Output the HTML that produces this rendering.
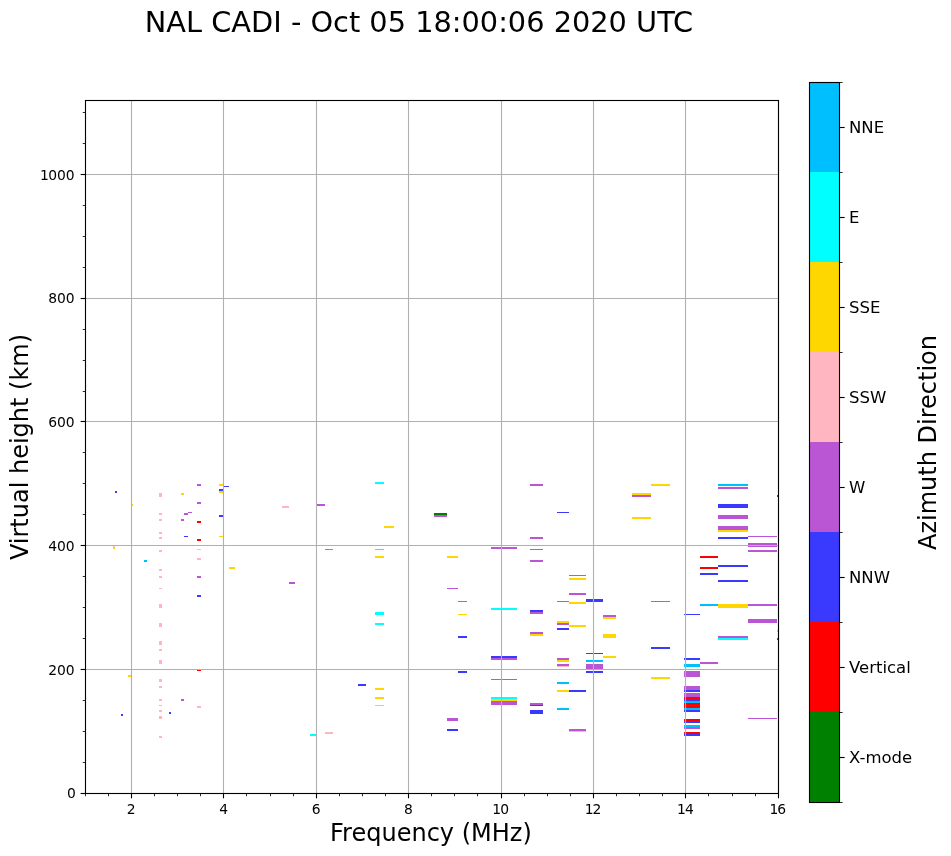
<!DOCTYPE html>
<html lang="en">
<head>
<meta charset="utf-8">
<title>NAL CADI - Oct 05 18:00:06 2020 UTC</title>
<style>
html,body{margin:0;padding:0;background:#fff;}
body{width:951px;height:856px;overflow:hidden;}
svg{display:block;}
text{font-family:"DejaVu Sans","Liberation Sans",sans-serif;fill:#000;}
.tk{font-size:13.89px;}
.cb{font-size:16.5px;}
.lb{font-size:24px;}
.tt{font-size:28.8px;}
</style>
</head>
<body>
<svg width="951" height="856" viewBox="0 0 951 856">
<rect x="0" y="0" width="951" height="856" fill="#ffffff"/>
<g id="marks" shape-rendering="crispEdges">
<rect x="113" y="547" width="2" height="2" fill="#ffd700"/>
<rect x="113" y="546" width="2" height="1" fill="#ffb6c1"/>
<rect x="115" y="491" width="2" height="2" fill="#3a3aff"/>
<rect x="121" y="714" width="2" height="2" fill="#3a3aff"/>
<rect x="128" y="675" width="3" height="2" fill="#ffd700"/>
<rect x="132" y="504" width="1" height="2" fill="#ffd700"/>
<rect x="144" y="560" width="3" height="2" fill="#00bfff"/>
<rect x="159" y="493" width="3" height="4" fill="#ffb6c1"/>
<rect x="159" y="513" width="3" height="2" fill="#ffb6c1"/>
<rect x="159" y="519" width="3" height="2" fill="#ffb6c1"/>
<rect x="159" y="532" width="3" height="2" fill="#ffb6c1"/>
<rect x="159" y="537" width="3" height="2" fill="#ffb6c1"/>
<rect x="159" y="550" width="3" height="2" fill="#ffb6c1"/>
<rect x="159" y="569" width="3" height="2" fill="#ffb6c1"/>
<rect x="159" y="576" width="3" height="2" fill="#ffb6c1"/>
<rect x="159" y="588" width="3" height="1" fill="#ffb6c1"/>
<rect x="159" y="604" width="3" height="4" fill="#ffb6c1"/>
<rect x="159" y="623" width="3" height="4" fill="#ffb6c1"/>
<rect x="159" y="641" width="3" height="4" fill="#ffb6c1"/>
<rect x="159" y="649" width="3" height="2" fill="#ffb6c1"/>
<rect x="159" y="660" width="3" height="4" fill="#ffb6c1"/>
<rect x="159" y="679" width="3" height="3" fill="#ffb6c1"/>
<rect x="159" y="686" width="3" height="2" fill="#ffb6c1"/>
<rect x="159" y="699" width="3" height="2" fill="#ffb6c1"/>
<rect x="159" y="705" width="3" height="1" fill="#ffb6c1"/>
<rect x="159" y="710" width="3" height="2" fill="#ffb6c1"/>
<rect x="159" y="716" width="3" height="3" fill="#ffb6c1"/>
<rect x="159" y="736" width="3" height="2" fill="#ffb6c1"/>
<rect x="169" y="712" width="2" height="2" fill="#3a3aff"/>
<rect x="181" y="493" width="3" height="2" fill="#ffd700"/>
<rect x="181" y="519" width="3" height="2" fill="#ba55d3"/>
<rect x="181" y="699" width="3" height="2" fill="#ba55d3"/>
<rect x="184" y="513" width="4" height="2" fill="#ba55d3"/>
<rect x="184" y="536" width="4" height="1" fill="#3a3aff"/>
<rect x="188" y="512" width="4" height="1" fill="#ba55d3"/>
<rect x="197" y="484" width="4" height="2" fill="#ba55d3"/>
<rect x="197" y="502" width="4" height="2" fill="#ba55d3"/>
<rect x="197" y="521" width="4" height="2" fill="#ff0000"/>
<rect x="197" y="539" width="4" height="2" fill="#ff0000"/>
<rect x="197" y="549" width="4" height="1" fill="#ffb6c1"/>
<rect x="197" y="558" width="4" height="2" fill="#ffb6c1"/>
<rect x="197" y="576" width="4" height="2" fill="#ba55d3"/>
<rect x="197" y="595" width="4" height="2" fill="#3a3aff"/>
<rect x="197" y="670" width="4" height="1" fill="#ff0000"/>
<rect x="197" y="706" width="4" height="2" fill="#ffb6c1"/>
<rect x="219" y="484" width="4" height="2" fill="#ffd700"/>
<rect x="219" y="489" width="4" height="2" fill="#3a3aff"/>
<rect x="219" y="491" width="4" height="2" fill="#ffd700"/>
<rect x="219" y="515" width="4" height="2" fill="#3a3aff"/>
<rect x="219" y="536" width="4" height="1" fill="#ffd700"/>
<rect x="224" y="486" width="5" height="1" fill="#3a3aff"/>
<rect x="229" y="567" width="6" height="2" fill="#ffd700"/>
<rect x="282" y="506" width="7" height="2" fill="#ffb6c1"/>
<rect x="289" y="582" width="6" height="2" fill="#ba55d3"/>
<rect x="310" y="734" width="6" height="2" fill="#00ffff"/>
<rect x="317" y="504" width="8" height="2" fill="#ba55d3"/>
<rect x="325" y="549" width="8" height="1" fill="#00bfff"/>
<rect x="325" y="732" width="8" height="2" fill="#ffb6c1"/>
<rect x="358" y="684" width="8" height="2" fill="#3a3aff"/>
<rect x="375" y="482" width="9" height="2" fill="#00ffff"/>
<rect x="375" y="549" width="9" height="1" fill="#00ffff"/>
<rect x="375" y="556" width="9" height="2" fill="#ffd700"/>
<rect x="375" y="612" width="9" height="3" fill="#00ffff"/>
<rect x="375" y="623" width="9" height="2" fill="#00ffff"/>
<rect x="375" y="688" width="9" height="2" fill="#ffd700"/>
<rect x="375" y="697" width="9" height="2" fill="#ffd700"/>
<rect x="375" y="705" width="9" height="1" fill="#ffd700"/>
<rect x="384" y="526" width="10" height="2" fill="#ffd700"/>
<rect x="434" y="513" width="13" height="2" fill="#008000"/>
<rect x="434" y="515" width="13" height="2" fill="#ba55d3"/>
<rect x="447" y="556" width="11" height="2" fill="#ffd700"/>
<rect x="447" y="588" width="11" height="1" fill="#ba55d3"/>
<rect x="447" y="718" width="11" height="3" fill="#ba55d3"/>
<rect x="447" y="729" width="11" height="2" fill="#3a3aff"/>
<rect x="458" y="601" width="9" height="1" fill="#ba55d3"/>
<rect x="458" y="614" width="9" height="1" fill="#ffd700"/>
<rect x="458" y="636" width="9" height="2" fill="#3a3aff"/>
<rect x="458" y="671" width="9" height="2" fill="#3a3aff"/>
<rect x="491" y="547" width="26" height="2" fill="#ba55d3"/>
<rect x="491" y="608" width="26" height="2" fill="#00ffff"/>
<rect x="491" y="656" width="26" height="2" fill="#3a3aff"/>
<rect x="491" y="658" width="26" height="2" fill="#ba55d3"/>
<rect x="491" y="679" width="26" height="1" fill="#ba55d3"/>
<rect x="491" y="697" width="26" height="2" fill="#00ffff"/>
<rect x="491" y="699" width="26" height="2" fill="#ffd700"/>
<rect x="491" y="701" width="26" height="4" fill="#ba55d3"/>
<rect x="530" y="484" width="13" height="2" fill="#ba55d3"/>
<rect x="530" y="537" width="13" height="2" fill="#ba55d3"/>
<rect x="530" y="549" width="13" height="1" fill="#ba55d3"/>
<rect x="530" y="560" width="13" height="2" fill="#ba55d3"/>
<rect x="530" y="610" width="13" height="2" fill="#3a3aff"/>
<rect x="530" y="612" width="13" height="2" fill="#ba55d3"/>
<rect x="530" y="632" width="13" height="2" fill="#ba55d3"/>
<rect x="530" y="634" width="13" height="2" fill="#ffd700"/>
<rect x="530" y="703" width="13" height="2" fill="#ba55d3"/>
<rect x="530" y="705" width="13" height="1" fill="#3a3aff"/>
<rect x="530" y="710" width="13" height="4" fill="#3a3aff"/>
<rect x="557" y="512" width="12" height="1" fill="#3a3aff"/>
<rect x="557" y="601" width="12" height="1" fill="#ba55d3"/>
<rect x="557" y="621" width="12" height="2" fill="#ffd700"/>
<rect x="557" y="623" width="12" height="2" fill="#ba55d3"/>
<rect x="557" y="628" width="12" height="2" fill="#3a3aff"/>
<rect x="557" y="658" width="12" height="2" fill="#ba55d3"/>
<rect x="557" y="660" width="12" height="2" fill="#ffd700"/>
<rect x="557" y="664" width="12" height="2" fill="#ba55d3"/>
<rect x="557" y="666" width="12" height="1" fill="#ffb6c1"/>
<rect x="557" y="682" width="12" height="2" fill="#00bfff"/>
<rect x="557" y="690" width="12" height="2" fill="#ffd700"/>
<rect x="557" y="708" width="12" height="2" fill="#00bfff"/>
<rect x="569" y="575" width="17" height="1" fill="#ba55d3"/>
<rect x="569" y="578" width="17" height="2" fill="#ffd700"/>
<rect x="569" y="593" width="17" height="2" fill="#ba55d3"/>
<rect x="569" y="602" width="17" height="2" fill="#ffd700"/>
<rect x="569" y="625" width="17" height="2" fill="#ffd700"/>
<rect x="569" y="690" width="17" height="2" fill="#3a3aff"/>
<rect x="569" y="729" width="17" height="2" fill="#ba55d3"/>
<rect x="569" y="731" width="17" height="1" fill="#ffd700"/>
<rect x="586" y="599" width="17" height="3" fill="#3a3aff"/>
<rect x="586" y="653" width="17" height="1" fill="#3a3aff"/>
<rect x="586" y="660" width="17" height="2" fill="#00bfff"/>
<rect x="586" y="664" width="17" height="5" fill="#ba55d3"/>
<rect x="586" y="671" width="17" height="2" fill="#3a3aff"/>
<rect x="603" y="615" width="13" height="2" fill="#ba55d3"/>
<rect x="603" y="617" width="13" height="2" fill="#ffd700"/>
<rect x="603" y="634" width="13" height="4" fill="#ffd700"/>
<rect x="603" y="656" width="13" height="2" fill="#ffd700"/>
<rect x="632" y="493" width="19" height="2" fill="#ffd700"/>
<rect x="632" y="495" width="19" height="2" fill="#ba55d3"/>
<rect x="632" y="517" width="19" height="2" fill="#ffd700"/>
<rect x="651" y="484" width="19" height="2" fill="#ffd700"/>
<rect x="651" y="601" width="19" height="1" fill="#ba55d3"/>
<rect x="651" y="647" width="19" height="2" fill="#3a3aff"/>
<rect x="651" y="677" width="19" height="2" fill="#ffd700"/>
<rect x="684" y="614" width="16" height="1" fill="#3a3aff"/>
<rect x="684" y="658" width="16" height="2" fill="#3a3aff"/>
<rect x="684" y="664" width="16" height="3" fill="#00bfff"/>
<rect x="684" y="671" width="16" height="6" fill="#ba55d3"/>
<rect x="684" y="686" width="16" height="4" fill="#ba55d3"/>
<rect x="684" y="690" width="16" height="2" fill="#3a3aff"/>
<rect x="684" y="693" width="16" height="4" fill="#ba55d3"/>
<rect x="684" y="697" width="16" height="2" fill="#ff0000"/>
<rect x="684" y="699" width="16" height="2" fill="#3a3aff"/>
<rect x="684" y="701" width="16" height="2" fill="#00bfff"/>
<rect x="684" y="703" width="16" height="2" fill="#ff0000"/>
<rect x="684" y="705" width="16" height="1" fill="#3a3aff"/>
<rect x="684" y="706" width="16" height="2" fill="#ff0000"/>
<rect x="684" y="708" width="16" height="2" fill="#00bfff"/>
<rect x="684" y="710" width="16" height="2" fill="#3a3aff"/>
<rect x="684" y="719" width="16" height="2" fill="#ff0000"/>
<rect x="684" y="721" width="16" height="2" fill="#3a3aff"/>
<rect x="684" y="725" width="16" height="2" fill="#00bfff"/>
<rect x="684" y="727" width="16" height="2" fill="#ba55d3"/>
<rect x="684" y="732" width="16" height="2" fill="#ff0000"/>
<rect x="684" y="734" width="16" height="2" fill="#3a3aff"/>
<rect x="700" y="556" width="18" height="2" fill="#ff0000"/>
<rect x="700" y="567" width="18" height="2" fill="#ff0000"/>
<rect x="700" y="573" width="18" height="2" fill="#3a3aff"/>
<rect x="700" y="604" width="18" height="2" fill="#00bfff"/>
<rect x="700" y="662" width="18" height="2" fill="#ba55d3"/>
<rect x="718" y="484" width="30" height="2" fill="#00bfff"/>
<rect x="718" y="487" width="30" height="2" fill="#ba55d3"/>
<rect x="718" y="504" width="30" height="4" fill="#3a3aff"/>
<rect x="718" y="515" width="30" height="4" fill="#ba55d3"/>
<rect x="718" y="526" width="30" height="4" fill="#ba55d3"/>
<rect x="718" y="530" width="30" height="2" fill="#ffd700"/>
<rect x="718" y="537" width="30" height="2" fill="#3a3aff"/>
<rect x="718" y="565" width="30" height="2" fill="#3a3aff"/>
<rect x="718" y="580" width="30" height="2" fill="#3a3aff"/>
<rect x="718" y="604" width="30" height="4" fill="#ffd700"/>
<rect x="718" y="636" width="30" height="2" fill="#ba55d3"/>
<rect x="718" y="638" width="30" height="2" fill="#00ffff"/>
<rect x="748" y="536" width="29" height="1" fill="#ba55d3"/>
<rect x="748" y="543" width="29" height="4" fill="#ba55d3"/>
<rect x="748" y="550" width="29" height="2" fill="#ba55d3"/>
<rect x="748" y="604" width="29" height="2" fill="#ba55d3"/>
<rect x="748" y="619" width="29" height="4" fill="#ba55d3"/>
<rect x="748" y="718" width="29" height="1" fill="#ba55d3"/>
<rect x="777" y="495" width="1" height="2" fill="#3a3aff"/>
<rect x="777" y="630" width="1" height="2" fill="#ffb6c1"/>
<rect x="777" y="638" width="1" height="2" fill="#3a3aff"/>
</g>
<g stroke="#b0b0b0" stroke-width="1.11" fill="none">
<line x1="131.5" y1="100.5" x2="131.5" y2="793.5"/>
<line x1="223.5" y1="100.5" x2="223.5" y2="793.5"/>
<line x1="316.5" y1="100.5" x2="316.5" y2="793.5"/>
<line x1="408.5" y1="100.5" x2="408.5" y2="793.5"/>
<line x1="501.5" y1="100.5" x2="501.5" y2="793.5"/>
<line x1="593.5" y1="100.5" x2="593.5" y2="793.5"/>
<line x1="685.5" y1="100.5" x2="685.5" y2="793.5"/>
<line x1="778.5" y1="100.5" x2="778.5" y2="793.5"/>
<line x1="85.5" y1="793.5" x2="778.5" y2="793.5"/>
<line x1="85.5" y1="669.5" x2="778.5" y2="669.5"/>
<line x1="85.5" y1="545.5" x2="778.5" y2="545.5"/>
<line x1="85.5" y1="421.5" x2="778.5" y2="421.5"/>
<line x1="85.5" y1="298.5" x2="778.5" y2="298.5"/>
<line x1="85.5" y1="174.5" x2="778.5" y2="174.5"/>
</g>
<g stroke="#000" fill="none">
<g stroke-width="1.11">
<line x1="131.5" y1="793.5" x2="131.5" y2="798.36"/>
<line x1="223.5" y1="793.5" x2="223.5" y2="798.36"/>
<line x1="316.5" y1="793.5" x2="316.5" y2="798.36"/>
<line x1="408.5" y1="793.5" x2="408.5" y2="798.36"/>
<line x1="501.5" y1="793.5" x2="501.5" y2="798.36"/>
<line x1="593.5" y1="793.5" x2="593.5" y2="798.36"/>
<line x1="685.5" y1="793.5" x2="685.5" y2="798.36"/>
<line x1="778.5" y1="793.5" x2="778.5" y2="798.36"/>
<line x1="85.5" y1="793.5" x2="80.64" y2="793.5"/>
<line x1="85.5" y1="669.5" x2="80.64" y2="669.5"/>
<line x1="85.5" y1="545.5" x2="80.64" y2="545.5"/>
<line x1="85.5" y1="421.5" x2="80.64" y2="421.5"/>
<line x1="85.5" y1="298.5" x2="80.64" y2="298.5"/>
<line x1="85.5" y1="174.5" x2="80.64" y2="174.5"/>
</g>
<g stroke-width="0.83">
<line x1="85.5" y1="793.5" x2="85.5" y2="796.28"/>
<line x1="108.5" y1="793.5" x2="108.5" y2="796.28"/>
<line x1="154.5" y1="793.5" x2="154.5" y2="796.28"/>
<line x1="177.5" y1="793.5" x2="177.5" y2="796.28"/>
<line x1="200.5" y1="793.5" x2="200.5" y2="796.28"/>
<line x1="246.5" y1="793.5" x2="246.5" y2="796.28"/>
<line x1="270.5" y1="793.5" x2="270.5" y2="796.28"/>
<line x1="293.5" y1="793.5" x2="293.5" y2="796.28"/>
<line x1="339.5" y1="793.5" x2="339.5" y2="796.28"/>
<line x1="362.5" y1="793.5" x2="362.5" y2="796.28"/>
<line x1="385.5" y1="793.5" x2="385.5" y2="796.28"/>
<line x1="431.5" y1="793.5" x2="431.5" y2="796.28"/>
<line x1="454.5" y1="793.5" x2="454.5" y2="796.28"/>
<line x1="477.5" y1="793.5" x2="477.5" y2="796.28"/>
<line x1="524.5" y1="793.5" x2="524.5" y2="796.28"/>
<line x1="547.5" y1="793.5" x2="547.5" y2="796.28"/>
<line x1="570.5" y1="793.5" x2="570.5" y2="796.28"/>
<line x1="616.5" y1="793.5" x2="616.5" y2="796.28"/>
<line x1="639.5" y1="793.5" x2="639.5" y2="796.28"/>
<line x1="662.5" y1="793.5" x2="662.5" y2="796.28"/>
<line x1="708.5" y1="793.5" x2="708.5" y2="796.28"/>
<line x1="732.5" y1="793.5" x2="732.5" y2="796.28"/>
<line x1="755.5" y1="793.5" x2="755.5" y2="796.28"/>
<line x1="85.5" y1="762.5" x2="82.72" y2="762.5"/>
<line x1="85.5" y1="731.5" x2="82.72" y2="731.5"/>
<line x1="85.5" y1="700.5" x2="82.72" y2="700.5"/>
<line x1="85.5" y1="638.5" x2="82.72" y2="638.5"/>
<line x1="85.5" y1="607.5" x2="82.72" y2="607.5"/>
<line x1="85.5" y1="576.5" x2="82.72" y2="576.5"/>
<line x1="85.5" y1="514.5" x2="82.72" y2="514.5"/>
<line x1="85.5" y1="483.5" x2="82.72" y2="483.5"/>
<line x1="85.5" y1="452.5" x2="82.72" y2="452.5"/>
<line x1="85.5" y1="391.5" x2="82.72" y2="391.5"/>
<line x1="85.5" y1="360.5" x2="82.72" y2="360.5"/>
<line x1="85.5" y1="329.5" x2="82.72" y2="329.5"/>
<line x1="85.5" y1="267.5" x2="82.72" y2="267.5"/>
<line x1="85.5" y1="236.5" x2="82.72" y2="236.5"/>
<line x1="85.5" y1="205.5" x2="82.72" y2="205.5"/>
<line x1="85.5" y1="143.5" x2="82.72" y2="143.5"/>
<line x1="85.5" y1="112.5" x2="82.72" y2="112.5"/>
</g>
<rect x="85.5" y="100.5" width="693.0" height="693.0" stroke-width="1.11"/>
</g>
<g class="tk">
<text x="131.25" y="813.6" text-anchor="middle">2</text>
<text x="223.65" y="813.6" text-anchor="middle">4</text>
<text x="316.05" y="813.6" text-anchor="middle">6</text>
<text x="408.45" y="813.6" text-anchor="middle">8</text>
<text x="500.65" y="813.6" text-anchor="middle">1<tspan dx="-1">0</tspan></text>
<text x="593.05" y="813.6" text-anchor="middle">1<tspan dx="-1">2</tspan></text>
<text x="685.45" y="813.6" text-anchor="middle">1<tspan dx="-1">4</tspan></text>
<text x="777.85" y="813.6" text-anchor="middle">1<tspan dx="-1">6</tspan></text>
<text x="75.8" y="798.40" text-anchor="end">0</text>
<text x="74.7" y="674.65" text-anchor="end">200</text>
<text x="74.7" y="550.90" text-anchor="end">400</text>
<text x="74.7" y="427.15" text-anchor="end">600</text>
<text x="74.7" y="303.40" text-anchor="end">800</text>
<text x="74.7" y="179.65" text-anchor="end">1<tspan dx="-0.7">000</tspan></text>
</g>
<text class="lb" x="430.90" y="840.5" text-anchor="middle">Frequency (MHz)</text>
<text class="lb" transform="translate(28.4 447.00) rotate(-90)" text-anchor="middle">Virtual height (km)</text>
<text class="tt" x="419.0" y="31.5" text-anchor="middle">NAL CADI - Oct 05 18:00:06 2020 UTC</text>
<g shape-rendering="crispEdges">
<rect x="809.5" y="82" width="30.0" height="90" fill="#00bfff"/>
<rect x="809.5" y="172" width="30.0" height="90" fill="#00ffff"/>
<rect x="809.5" y="262" width="30.0" height="90" fill="#ffd700"/>
<rect x="809.5" y="352" width="30.0" height="90" fill="#ffb6c1"/>
<rect x="809.5" y="442" width="30.0" height="90" fill="#ba55d3"/>
<rect x="809.5" y="532" width="30.0" height="90" fill="#3a3aff"/>
<rect x="809.5" y="622" width="30.0" height="90" fill="#ff0000"/>
<rect x="809.5" y="712" width="30.0" height="90" fill="#008000"/>
</g>
<g stroke="#000" fill="none">
<g stroke-width="0.83">
<line x1="839.5" y1="82.5" x2="842.6" y2="82.5"/>
<line x1="839.5" y1="172.5" x2="842.6" y2="172.5"/>
<line x1="839.5" y1="262.5" x2="842.6" y2="262.5"/>
<line x1="839.5" y1="352.5" x2="842.6" y2="352.5"/>
<line x1="839.5" y1="442.5" x2="842.6" y2="442.5"/>
<line x1="839.5" y1="532.5" x2="842.6" y2="532.5"/>
<line x1="839.5" y1="622.5" x2="842.6" y2="622.5"/>
<line x1="839.5" y1="712.5" x2="842.6" y2="712.5"/>
<line x1="839.5" y1="802.5" x2="842.6" y2="802.5"/>
</g><g stroke-width="1.11">
<line x1="839.5" y1="127.5" x2="844.65" y2="127.5"/>
<line x1="839.5" y1="217.5" x2="844.65" y2="217.5"/>
<line x1="839.5" y1="307.5" x2="844.65" y2="307.5"/>
<line x1="839.5" y1="397.5" x2="844.65" y2="397.5"/>
<line x1="839.5" y1="487.5" x2="844.65" y2="487.5"/>
<line x1="839.5" y1="577.5" x2="844.65" y2="577.5"/>
<line x1="839.5" y1="667.5" x2="844.65" y2="667.5"/>
<line x1="839.5" y1="757.5" x2="844.65" y2="757.5"/>
</g>
<rect x="809.5" y="82.5" width="30.0" height="720.0" stroke-width="1.11"/>
</g>
<g class="cb">
<text x="849.0" y="132.80">NNE</text>
<text x="849.0" y="222.80">E</text>
<text x="849.0" y="312.80">SSE</text>
<text x="849.0" y="402.80">SSW</text>
<text x="849.0" y="492.80">W</text>
<text x="849.0" y="582.80">NNW</text>
<text x="849.0" y="672.80">Vertical</text>
<text x="849.0" y="762.80">X-mode</text>
</g>
<text class="lb" transform="translate(935.7 442.50) rotate(-90)" text-anchor="middle">Azimuth Direction</text>
</svg>
</body>
</html>
